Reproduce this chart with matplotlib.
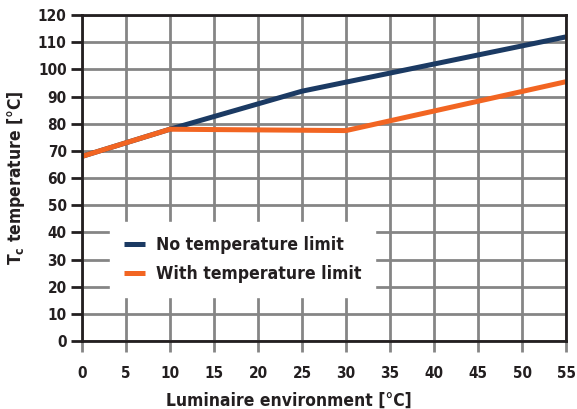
import matplotlib
matplotlib.use("Agg")
import matplotlib.pyplot as plt

plt.rcParams['font.family'] = ['DejaVu Sans']
plt.rcParams['font.stretch'] = 'condensed'
plt.rcParams['mathtext.fontset'] = 'custom'
plt.rcParams['mathtext.rm'] = 'DejaVu Sans:stretch=condensed'

# data
env_no_limit = [0, 10, 25, 55]
tc_no_limit = [68, 78, 92, 112]
env_limit = [0, 10, 30, 55]
tc_limit = [68, 78, 77.5, 95.5]

x_ticks = list(range(0, 56, 5))
y_ticks = list(range(0, 121, 10))

blue = '#1b3a63'
orange = '#f26522'
grid_gray = '#858585'
ink = '#231f20'

fig = plt.figure(figsize=(5.77, 4.09), dpi=100)
ax = fig.add_axes([0.142, 0.166, 0.839, 0.797])

ax.plot(env_no_limit, tc_no_limit, color=blue, lw=3.6, label='No temperature limit',
        solid_capstyle='butt', zorder=3)
ax.plot(env_limit, tc_limit, color=orange, lw=3.6, label='With temperature limit',
        solid_capstyle='butt', zorder=4)

ax.set_xlim(0, 55)
ax.set_ylim(0, 120)
ax.set_xticks(x_ticks)
ax.set_yticks(y_ticks)
ax.grid(True, color=grid_gray, lw=2.0, zorder=1)
ax.set_axisbelow(True)

for s in ax.spines.values():
    s.set_color(ink)
    s.set_linewidth(2.0)
    s.set_zorder(5)

ax.tick_params(axis='y', direction='out', length=8, width=2.0, color=ink,
               labelsize=11, pad=3, labelcolor=ink)
ax.tick_params(axis='x', direction='out', length=8, width=2.0, color=grid_gray,
               labelsize=11, pad=10, labelcolor=ink)
for lab in ax.get_xticklabels() + ax.get_yticklabels():
    lab.set_fontweight('bold')
    lab.set_fontstretch('condensed')

ax.set_xlabel('Luminaire environment [°C]', fontsize=12.5, fontweight='bold',
              fontstretch='condensed', color=ink)
ax.xaxis.set_label_coords(0.427, -0.155)
ax.set_ylabel(r'T$_\mathregular{c}$ temperature [°C]', fontsize=12.5, fontweight='bold',
              fontstretch='condensed', color=ink, labelpad=8)

leg = ax.legend(loc='lower left', bbox_to_anchor=(0.058, 0.135), frameon=True,
                fancybox=False, framealpha=1, edgecolor='white', facecolor='white',
                borderaxespad=0, handlelength=1.2, handletextpad=0.6,
                labelspacing=0.65, borderpad=0.8,
                prop={'size': 12.6, 'weight': 'bold', 'stretch': 'condensed'})
leg.set_zorder(6)
for t in leg.get_texts():
    t.set_color(ink)

fig.savefig('out.png', dpi=100)
